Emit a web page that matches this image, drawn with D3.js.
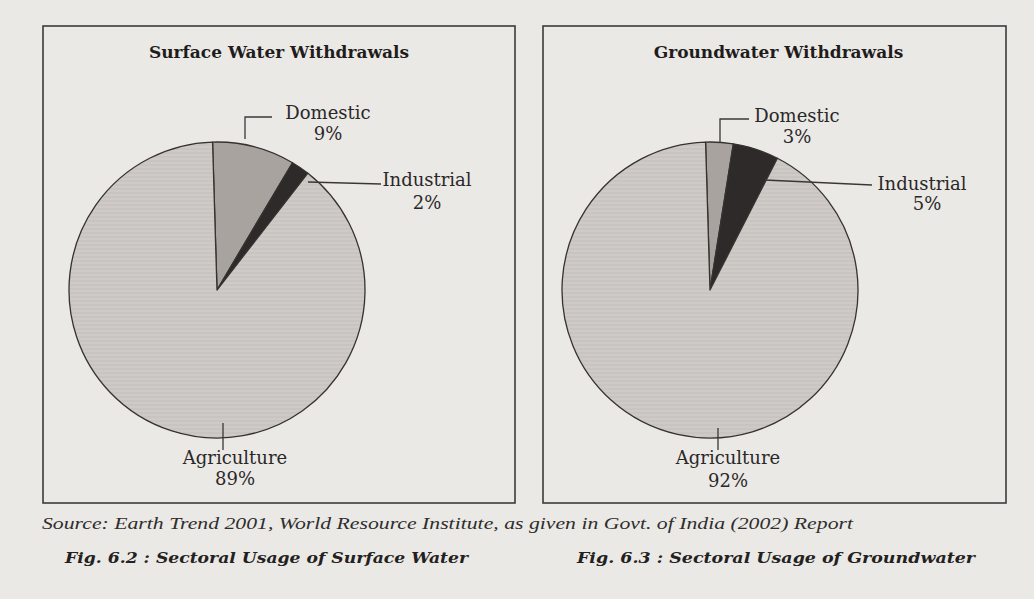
<!DOCTYPE html>
<html>
<head>
<meta charset="utf-8">
<script src="https://cdn.jsdelivr.net/npm/d3@7"></script>
<style>
  html, body { margin: 0; padding: 0; background: #ebe9e6; }
  svg { display: block; }
</style>
</head>
<body>
<div id="chart"></div>
<script>
// Data
const sectors = ["Domestic", "Industrial", "Agriculture"];
const surfaceValues = [9, 2, 89];
const groundValues = [3, 5, 92];
const chartTitles = ["Surface Water Withdrawals", "Groundwater Withdrawals"];
const figCaptions = ["Fig. 6.2 : Sectoral Usage of Surface Water", "Fig. 6.3 : Sectoral Usage of Groundwater"];
const sourceNote = "Source: Earth Trend 2001, World Resource Institute, as given in Govt. of India (2002) Report";

const width = 1034;
const height = 599;
const radius = 148;

const sectorColors = {
    "Domestic": "#a8a39e",
    "Industrial": "#2d2a29",
    "Agriculture": "url(#agriStripes)"
};

// layout of each panel: frame, pie centre and label offsets (relative to centre)
const panels = [
    {
        values: surfaceValues,
        frame: { x: 43, y: 26, w: 472, h: 477 },
        cx: 217, cy: 290,
        labels: {
            "Domestic":    { line: [[28, -151], [28, -173], [55, -173]], text: [111, -178], pct: [111, -157] },
            "Industrial":  { line: [[91, -108], [164, -106]], text: [210, -111], pct: [210, -88] },
            "Agriculture": { line: [[6, 133], [6, 160]], text: [18, 167], pct: [18, 188] }
        }
    },
    {
        values: groundValues,
        frame: { x: 543, y: 26, w: 463, h: 477 },
        cx: 710, cy: 290,
        labels: {
            "Domestic":    { line: [[10, -148], [10, -171], [39, -171]], text: [87, -175], pct: [87, -154] },
            "Industrial":  { line: [[55, -110], [162, -105]], text: [212, -107], pct: [217, -87] },
            "Agriculture": { line: [[8, 138], [8, 160]], text: [18, 167], pct: [18, 190] }
        }
    }
];

const svg = d3.select("#chart").append("svg")
    .attr("width", width)
    .attr("height", height);

// faint scan stripes in the large slice
const defs = svg.append("defs");
const pat = defs.append("pattern")
    .attr("id", "agriStripes")
    .attr("patternUnits", "userSpaceOnUse")
    .attr("width", 8)
    .attr("height", 4);
pat.append("rect").attr("width", 8).attr("height", 4).attr("fill", "#cfcac6");
pat.append("rect").attr("y", 2).attr("width", 8).attr("height", 2).attr("fill", "#c8c4c1");

const pie = d3.pie()
    .sort(null)
    .startAngle(-0.03)
    .endAngle(2 * Math.PI - 0.03);

const arc = d3.arc()
    .innerRadius(0)
    .outerRadius(radius);

const serif = "'DejaVu Serif', serif";

panels.forEach((p, i) => {
    // frame
    svg.append("rect")
        .attr("x", p.frame.x)
        .attr("y", p.frame.y)
        .attr("width", p.frame.w)
        .attr("height", p.frame.h)
        .attr("fill", "none")
        .attr("stroke", "#3d3b3a")
        .attr("stroke-width", 1.6);

    // title
    svg.append("text")
        .attr("x", p.frame.x + p.frame.w / 2 + (i === 0 ? 0 : 4))
        .attr("y", 52)
        .attr("text-anchor", "middle")
        .attr("dominant-baseline", "central")
        .style("font-family", serif)
        .style("font-weight", "bold")
        .style("font-size", "17px")
        .attr("fill", "#1f1d1c")
        .text(chartTitles[i]);

    const g = svg.append("g")
        .attr("transform", `translate(${p.cx}, ${p.cy})`);

    const arcs = pie(p.values);

    g.selectAll("path.slice")
        .data(arcs)
        .enter()
        .append("path")
        .attr("class", "slice")
        .attr("d", arc)
        .attr("fill", (d, k) => sectorColors[sectors[k]])
        .attr("stroke", "#353231")
        .attr("stroke-width", 1.3)
        .attr("stroke-linejoin", "round");

    // leader lines and labels
    sectors.forEach((s, k) => {
        const lab = p.labels[s];
        g.append("path")
            .attr("d", d3.line()(lab.line))
            .attr("fill", "none")
            .attr("stroke", "#3a3837")
            .attr("stroke-width", 1.3);

        g.append("text")
            .attr("x", lab.text[0])
            .attr("y", lab.text[1])
            .attr("text-anchor", "middle")
            .attr("dominant-baseline", "central")
            .style("font-family", serif)
            .style("font-size", "18px")
            .attr("fill", "#2a2827")
            .text(s);

        g.append("text")
            .attr("x", lab.pct[0])
            .attr("y", lab.pct[1])
            .attr("text-anchor", "middle")
            .attr("dominant-baseline", "central")
            .style("font-family", serif)
            .style("font-size", "18px")
            .attr("fill", "#2a2827")
            .text(p.values[k] + "%");
    });
});

// source note
svg.append("text")
    .attr("x", 42)
    .attr("y", 523)
    .attr("dominant-baseline", "central")
    .attr("textLength", 811)
    .attr("lengthAdjust", "spacingAndGlyphs")
    .style("font-family", "'Liberation Serif', serif")
    .style("font-style", "italic")
    .style("font-size", "17px")
    .attr("fill", "#2f2d2c")
    .text(sourceNote);

// figure captions
const captionX = [65, 577];
const captionW = [403, 398];
figCaptions.forEach((c, i) => {
    svg.append("text")
        .attr("x", captionX[i])
        .attr("y", 558)
        .attr("dominant-baseline", "central")
        .attr("textLength", captionW[i])
        .attr("lengthAdjust", "spacingAndGlyphs")
        .style("font-family", serif)
        .style("font-style", "italic")
        .style("font-weight", "bold")
        .style("font-size", "15px")
        .attr("fill", "#232120")
        .text(c);
});
</script>
</body>
</html>
